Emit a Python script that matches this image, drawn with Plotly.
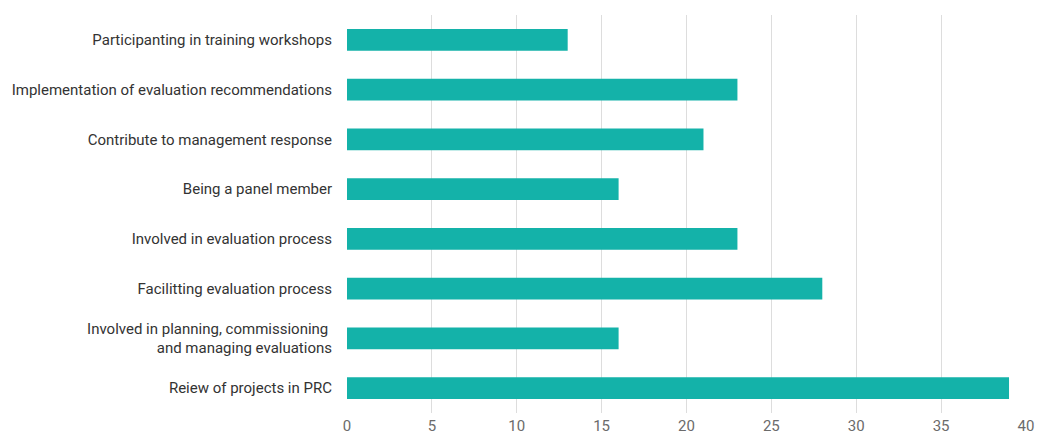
import plotly.graph_objects as go

categories = [
    "Participanting in training workshops",
    "Implementation of evaluation recommendations",
    "Contribute to management response",
    "Being a panel member",
    "Involved in evaluation process",
    "Facilitting evaluation process",
    "Involved in planning, commissioning\u00a0<br>and managing evaluations",
    "Reiew of projects in PRC",
]
values = [13, 23, 21, 16, 23, 28, 16, 39]
x_ticks = [0, 5, 10, 15, 20, 25, 30, 35, 40]

fig = go.Figure(
    go.Bar(
        x=values,
        y=categories,
        orientation="h",
        marker=dict(color="#14b2a9", line=dict(width=0)),
        hoverinfo="x+y",
    )
)

fig.update_layout(
    width=1041,
    height=434,
    margin=dict(l=347, r=15, t=15, b=21, autoexpand=False),
    paper_bgcolor="white",
    plot_bgcolor="white",
    bargap=0.56,
    showlegend=False,
    font=dict(family="Roboto", size=15, color="#333333"),
)
fig.update_xaxes(
    range=[0, 40],
    tickvals=x_ticks,
    showgrid=True,
    gridcolor="#dddddd",
    gridwidth=1,
    zeroline=False,
    showline=False,
    automargin=False,
    tickfont=dict(family="Roboto", size=15, color="#6b6b6b"),
    ticklabelstandoff=2,
)
fig.update_yaxes(
    autorange="reversed",
    showgrid=False,
    zeroline=False,
    showline=False,
    automargin=False,
    ticklabelstandoff=14,
    tickfont=dict(family="Roboto", size=15, color="#333333"),
)

fig.write_html("out.html")
